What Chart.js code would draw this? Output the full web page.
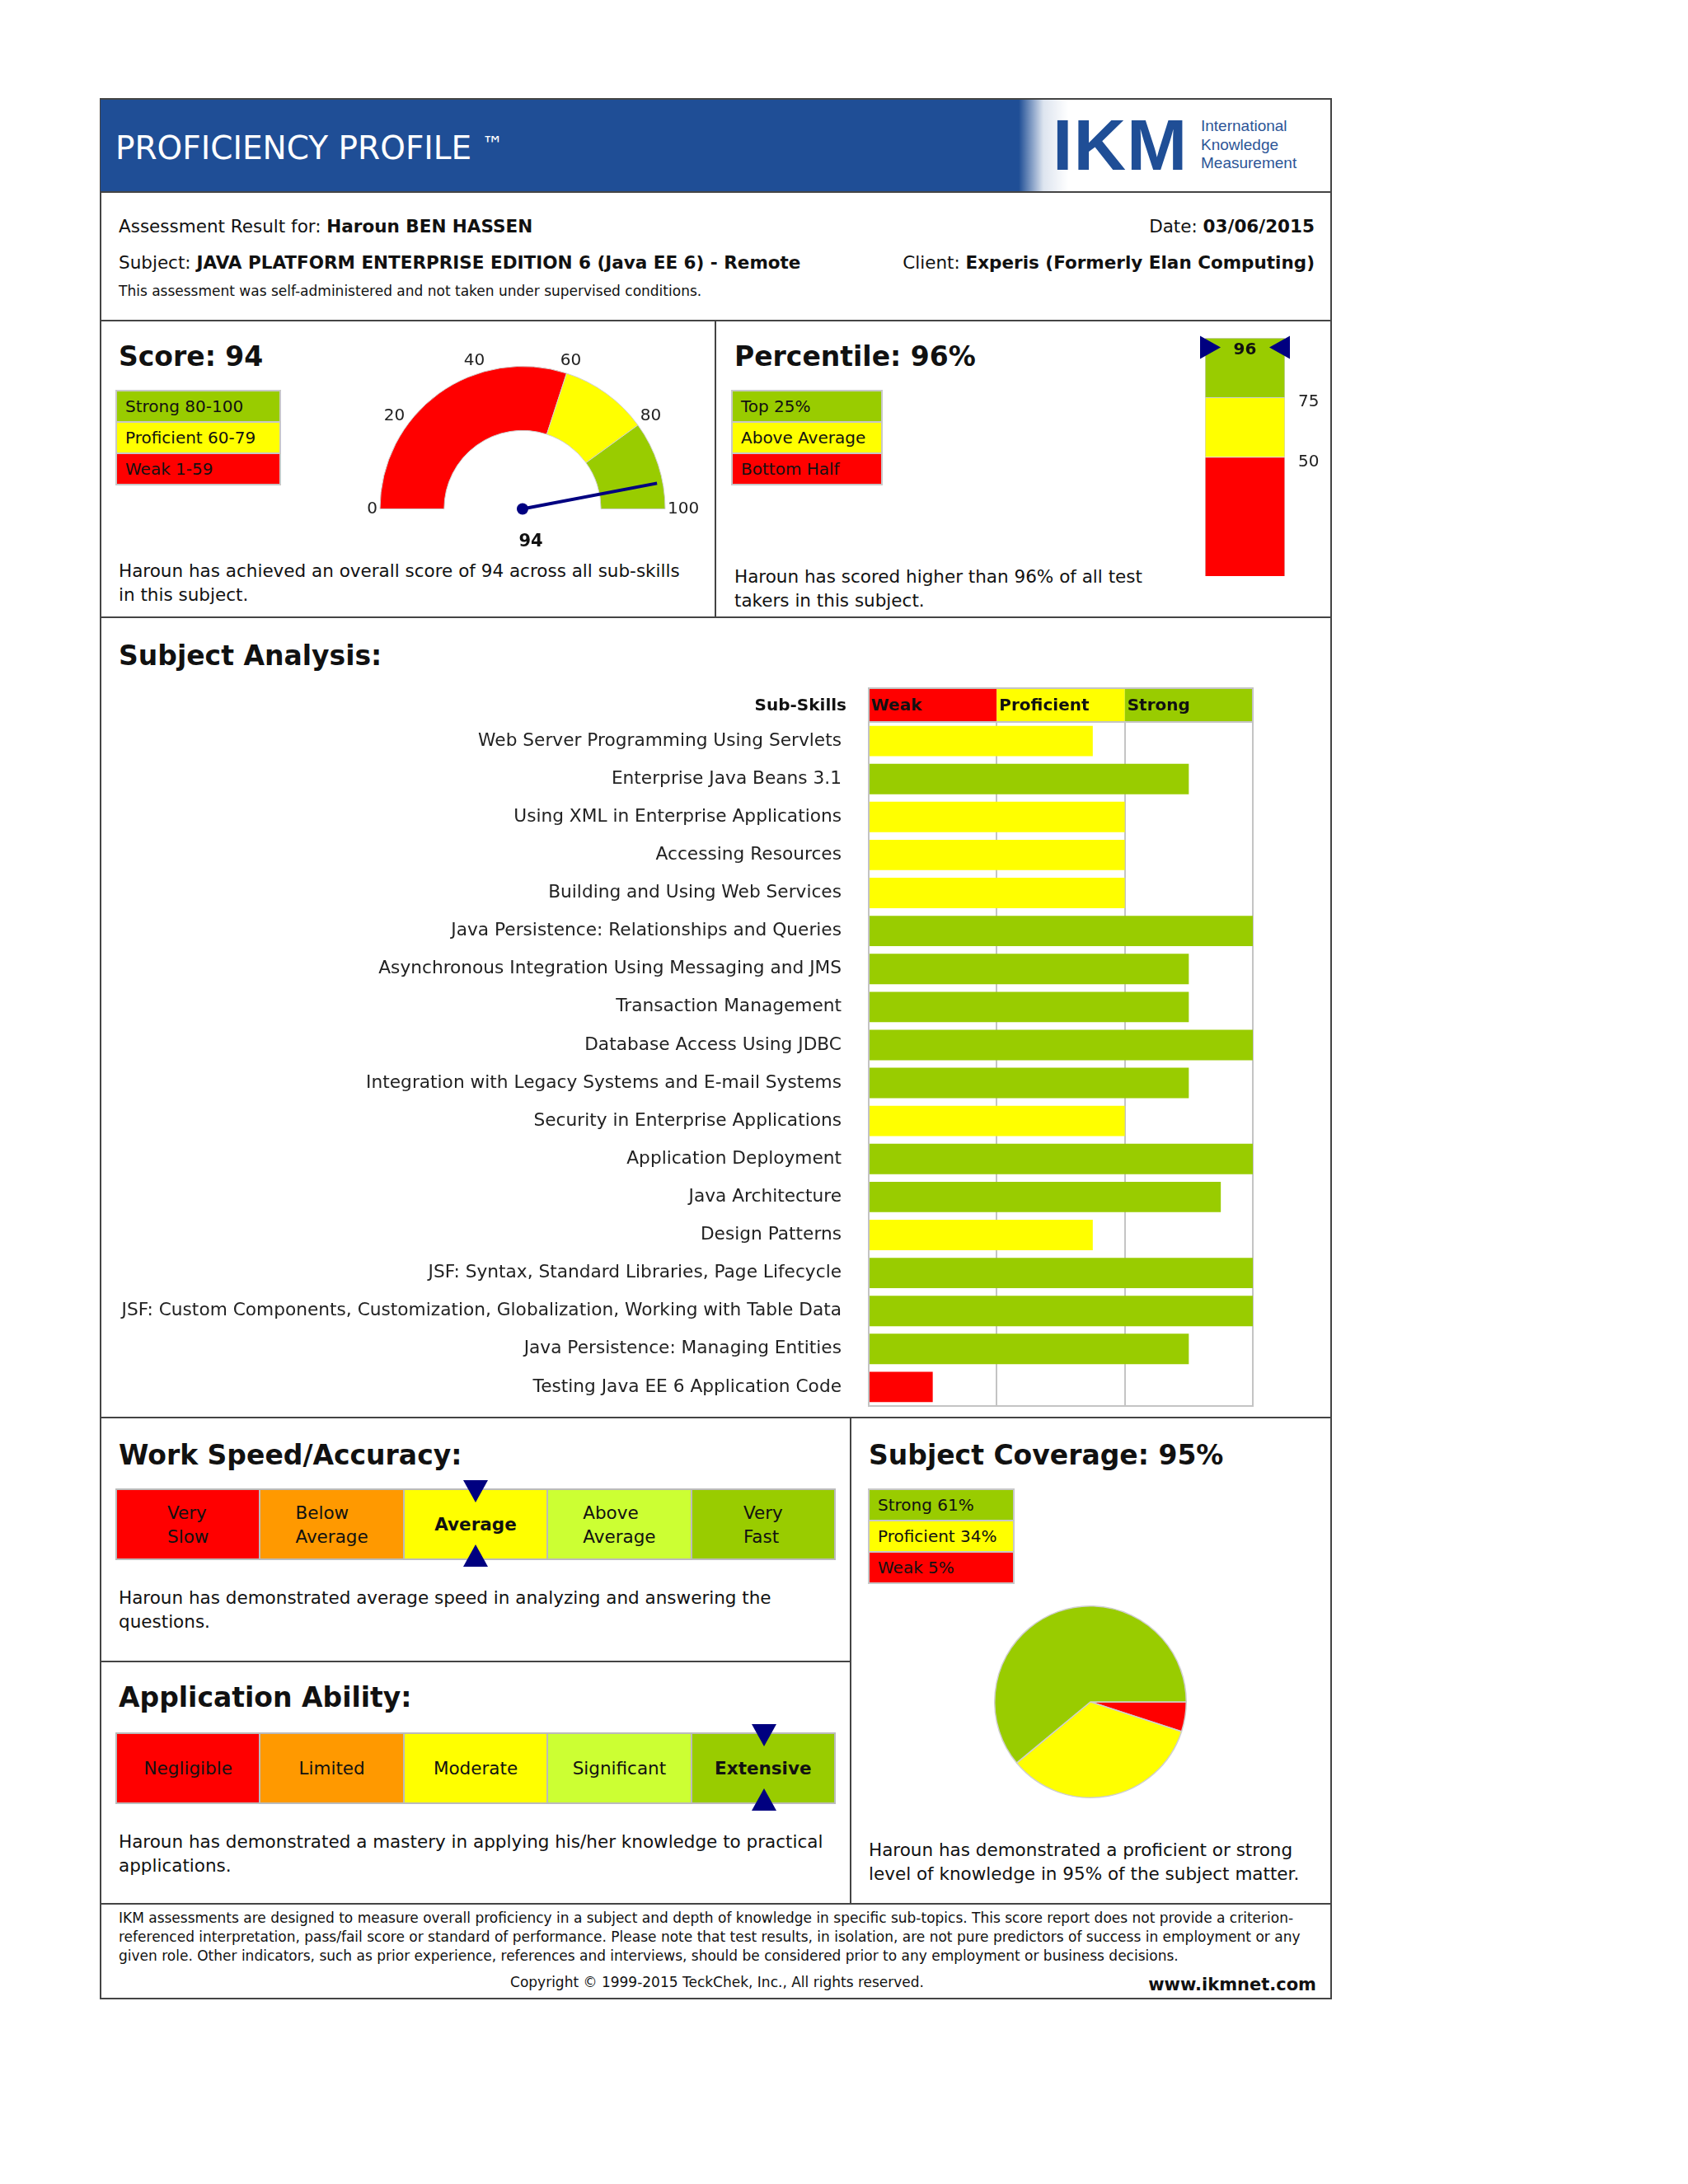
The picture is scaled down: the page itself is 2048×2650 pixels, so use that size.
<!DOCTYPE html>
<html lang="en">
<head>
<meta charset="UTF-8">
<title>Proficiency Profile</title>
<script src="https://cdn.jsdelivr.net/npm/chart.js"></script>
<style>
  body { margin: 0; background: #fff; font-family: "DejaVu Sans", Verdana, sans-serif; color: #111; }
  .page { position: relative; width: 2048px; height: 2650px; overflow: hidden; }
  .t { position: absolute; white-space: nowrap; transform: translateY(-50%); font-size: 21.5px; line-height: 29px; }
  .r { transform: translate(-100%, -50%); }
  .c { transform: translate(-50%, -50%); }
  .h { font-weight: bold; font-size: 33px; line-height: 40px; }
  .d { position: absolute; white-space: nowrap; font-size: 21.5px; line-height: 29px; }
  .small { font-size: 17px; line-height: 22px; }
  .hl { position: absolute; height: 2px; background: #444; }
  .vl { position: absolute; width: 2px; background: #444; }
  .legend { position: absolute; border: 2px solid #c8c8c8; box-sizing: border-box; }
  .legend div { height: 36px; line-height: 36px; padding-left: 10px; font-size: 20px; white-space: nowrap; border-top: 2px solid #c8c8c8; }
  .legend div:first-child { border-top: none; }
  .scale { position: absolute; left: 140px; width: 874px; height: 87px; display: flex; border: 2px solid #bbb; box-sizing: border-box; }
  .cell { flex: 1; display: flex; align-items: center; justify-content: center; border-left: 2px solid #bbb; }
  .cell:first-child { border-left: none; }
  .cell span { white-space: pre; text-align: left; font-size: 21.5px; line-height: 29px; }
  .mk { position: absolute; width: 0; height: 0; border-left: 15px solid transparent; border-right: 15px solid transparent; }
  canvas { position: absolute; }
</style>
</head>
<body>
<div class="page" id="page">
  <!-- frame and header -->
  <div style="position:absolute;left:121px;top:119px;width:1495px;height:2307px;border:2px solid #444;box-sizing:border-box;"></div>
  <div style="position:absolute;left:122px;top:121px;width:1492px;height:112px;background:#1f4e96;"></div>
  <div style="position:absolute;left:1236px;top:121px;width:378px;height:112px;background:linear-gradient(to right, rgba(255,255,255,0) 0px, rgba(255,255,255,0.85) 30px, #fff 60px);"></div>
  <div class="t" style="left:140px;top:177px;font-size:39px;line-height:46px;color:#fff;">PROFICIENCY PROFILE <span style="font-size:26px;vertical-align:9px;">™</span></div>
  <div class="t" style="left:1277px;top:176px;font-family:'Liberation Sans',Arial,sans-serif;font-weight:bold;font-size:88px;line-height:90px;color:#1f4e96;letter-spacing:1px;">IKM</div>
  <div class="d" style="left:1457px;top:142px;font-family:'Liberation Sans',Arial,sans-serif;font-size:19px;line-height:22.5px;color:#2d5597;">International<br>Knowledge<br>Measurement</div>

  <div class="hl" style="left:122px;top:232px;width:1493px;"></div>

  <!-- info -->
  <div class="t" style="left:144px;top:274px;">Assessment Result for: <b>Haroun BEN HASSEN</b></div>
  <div class="t r" style="left:1595px;top:274px;">Date: <b>03/06/2015</b></div>
  <div class="t" style="left:144px;top:318px;">Subject: <b>JAVA PLATFORM ENTERPRISE EDITION 6 (Java EE 6) - Remote</b></div>
  <div class="t r" style="left:1595px;top:318px;">Client: <b>Experis (Formerly Elan Computing)</b></div>
  <div class="t small" style="left:144px;top:353px;">This assessment was self-administered and not taken under supervised conditions.</div>

  <div class="hl" style="left:122px;top:388px;width:1493px;"></div>
  <div class="vl" style="left:867px;top:389px;height:360px;"></div>

  <!-- score -->
  <div class="t h" style="left:144px;top:433px;">Score: 94</div>
  <div class="legend" style="left:140px;top:473px;width:201px;">
    <div style="background:#99cc00;">Strong 80-100</div>
    <div style="background:#ffff00;">Proficient 60-79</div>
    <div style="background:#ff0000;">Weak 1-59</div>
  </div>
  <div class="d" style="left:144px;top:678px;">Haroun has achieved an overall score of 94 across all sub-skills<br>in this subject.</div>

  <!-- percentile -->
  <div class="t h" style="left:891px;top:433px;">Percentile: 96%</div>
  <div class="legend" style="left:887px;top:473px;width:184px;">
    <div style="background:#99cc00;">Top 25%</div>
    <div style="background:#ffff00;">Above Average</div>
    <div style="background:#ff0000;">Bottom Half</div>
  </div>
  <div class="d" style="left:891px;top:685px;">Haroun has scored higher than 96% of all test<br>takers in this subject.</div>

  <div class="hl" style="left:122px;top:748px;width:1493px;"></div>

  <!-- subject analysis -->
  <div class="t h" style="left:144px;top:796px;">Subject Analysis:</div>

  <div class="hl" style="left:122px;top:1719px;width:1493px;"></div>
  <div class="vl" style="left:1031px;top:1720px;height:590px;"></div>

  <!-- work speed -->
  <div class="t h" style="left:144px;top:1766px;">Work Speed/Accuracy:</div>
  <div class="d" style="left:144px;top:1924px;">Haroun has demonstrated average speed in analyzing and answering the<br>questions.</div>

  <div class="hl" style="left:122px;top:2015px;width:910px;"></div>

  <!-- application ability -->
  <div class="t h" style="left:144px;top:2060px;">Application Ability:</div>
  <div class="d" style="left:144px;top:2220px;">Haroun has demonstrated a mastery in applying his/her knowledge to practical<br>applications.</div>

  <!-- coverage -->
  <div class="t h" style="left:1054px;top:1766px;">Subject Coverage: 95%</div>
  <div class="legend" style="left:1053px;top:1806px;width:178px;">
    <div style="background:#99cc00;">Strong 61%</div>
    <div style="background:#ffff00;">Proficient 34%</div>
    <div style="background:#ff0000;">Weak 5%</div>
  </div>
  <div class="d" style="left:1054px;top:2230px;">Haroun has demonstrated a proficient or strong<br>level of knowledge in 95% of the subject matter.</div>

  <div class="hl" style="left:122px;top:2309px;width:1493px;"></div>

  <!-- footer -->
  <div class="d small" style="left:144px;top:2316px;line-height:23px;">IKM assessments are designed to measure overall proficiency in a subject and depth of knowledge in specific sub-topics. This score report does not provide a criterion-<br>referenced interpretation, pass/fail score or standard of performance. Please note that test results, in isolation, are not pure predictors of success in employment or any<br>given role. Other indicators, such as prior experience, references and interviews, should be considered prior to any employment or business decisions.</div>
  <div class="t c small" style="left:870px;top:2405px;">Copyright © 1999-2015 TeckChek, Inc., All rights reserved.</div>
  <div class="t r" style="left:1597px;top:2408px;font-weight:bold;font-size:21px;">www.ikmnet.com</div>

  <canvas id="gauge" width="448" height="270" style="left:410px;top:404px;"></canvas>
  <canvas id="pct" width="180" height="345" style="left:1440px;top:382px;"></canvas>
  <canvas id="skills" width="1400" height="922" style="left:140px;top:830px;"></canvas>
  <canvas id="pie" width="250" height="250" style="left:1198px;top:1940px;"></canvas>
</div>

<script>
// ---- data ----
const score = 94;
const gaugeBands = [60, 20, 20];
const gaugeTicks = [0, 20, 40, 60, 80, 100];

const percentile = 96;
const percentileBands = [50, 25, 25];
const percentileTicks = [50, 75];

const levelNames = ['Weak', 'Proficient', 'Strong'];
const levelColors = ['#ff0000', '#ffff00', '#99cc00'];

const skillNames = [
  'Web Server Programming Using Servlets',
  'Enterprise Java Beans 3.1',
  'Using XML in Enterprise Applications',
  'Accessing Resources',
  'Building and Using Web Services',
  'Java Persistence: Relationships and Queries',
  'Asynchronous Integration Using Messaging and JMS',
  'Transaction Management',
  'Database Access Using JDBC',
  'Integration with Legacy Systems and E-mail Systems',
  'Security in Enterprise Applications',
  'Application Deployment',
  'Java Architecture',
  'Design Patterns',
  'JSF: Syntax, Standard Libraries, Page Lifecycle',
  'JSF: Custom Components, Customization, Globalization, Working with Table Data',
  'Java Persistence: Managing Entities',
  'Testing Java EE 6 Application Code'
];
const skillLevels = [1.75, 2.5, 2, 2, 2, 3, 2.5, 2.5, 3, 2.5, 2, 3, 2.75, 1.75, 3, 3, 2.5, 0.5];

const coverageLabels = ['Weak', 'Proficient', 'Strong'];
const coverageValues = [5, 34, 61];

const speedLevels = ['Very\nSlow', 'Below\nAverage', 'Average', 'Above\nAverage', 'Very\nFast'];
const speedPick = 2;
const abilityLevels = ['Negligible', 'Limited', 'Moderate', 'Significant', 'Extensive'];
const abilityPick = 4;
const scaleColors = ['#ff0000', '#ff9900', '#ffff00', '#ccff33', '#99cc00'];

Chart.defaults.font.family = '"DejaVu Sans", Verdana, sans-serif';
Chart.defaults.color = '#222';
Chart.defaults.animation = false;
Chart.defaults.plugins.legend.display = false;
Chart.defaults.plugins.tooltip.enabled = false;

const NAVY = '#000080';

// ---- speed / ability scales ----
const page = document.getElementById('page');
function buildScale(top, labels, pick) {
  const row = document.createElement('div');
  row.className = 'scale';
  row.style.top = top + 'px';
  labels.forEach((lab, i) => {
    const cell = document.createElement('div');
    cell.className = 'cell';
    cell.style.background = scaleColors[i];
    const s = document.createElement('span');
    s.textContent = lab;
    if (i === pick) s.style.fontWeight = 'bold';
    cell.appendChild(s);
    row.appendChild(cell);
  });
  page.appendChild(row);
  const cx = 140 + (pick + 0.5) * (874 / labels.length);
  const down = document.createElement('div');
  down.className = 'mk';
  down.style.cssText = `left:${cx - 15}px;top:${top - 10}px;border-top:27px solid ${NAVY};`;
  const up = document.createElement('div');
  up.className = 'mk';
  up.style.cssText = `left:${cx - 15}px;top:${top + 68}px;border-bottom:27px solid ${NAVY};`;
  page.appendChild(down);
  page.appendChild(up);
}
buildScale(1806, speedLevels, speedPick);
buildScale(2102, abilityLevels, abilityPick);

// ---- score gauge ----
const gaugeDecor = {
  id: 'gaugeDecor',
  afterDatasetsDraw(chart) {
    const arc = chart.getDatasetMeta(0).data[0];
    const cx = arc.x, cy = arc.y, R = arc.outerRadius;
    const ctx = chart.ctx;
    ctx.save();
    ctx.font = '20px "DejaVu Sans"';
    ctx.fillStyle = '#222';
    ctx.textAlign = 'center';
    ctx.textBaseline = 'middle';
    gaugeTicks.forEach(v => {
      const a = Math.PI + v / 100 * Math.PI;
      const w = ctx.measureText(String(v)).width;
      const r = R + 3 + Math.abs(Math.cos(a)) * w / 2 + Math.abs(Math.sin(a)) * 10;
      ctx.fillText(String(v), cx + Math.cos(a) * r, cy + Math.sin(a) * r);
    });
    const a = Math.PI + score / 100 * Math.PI;
    ctx.strokeStyle = NAVY;
    ctx.lineWidth = 4;
    ctx.beginPath();
    ctx.moveTo(cx, cy);
    ctx.lineTo(cx + Math.cos(a) * R * 0.96, cy + Math.sin(a) * R * 0.96);
    ctx.stroke();
    ctx.fillStyle = NAVY;
    ctx.beginPath();
    ctx.arc(cx, cy, 7, 0, Math.PI * 2);
    ctx.fill();
    ctx.fillStyle = '#111';
    ctx.font = 'bold 21px "DejaVu Sans"';
    ctx.fillText(String(score), cx + 10, cy + 40);
    ctx.restore();
  }
};

new Chart(document.getElementById('gauge'), {
  type: 'doughnut',
  data: {
    labels: levelNames,
    datasets: [{
      data: gaugeBands,
      backgroundColor: levelColors,
      borderColor: '#d0d0d0',
      borderWidth: 1
    }]
  },
  options: {
    responsive: false,
    rotation: -90,
    circumference: 180,
    cutout: '55%',
    layout: { padding: { left: 50, right: 50, top: 40, bottom: 56 } }
  },
  plugins: [gaugeDecor]
});

// ---- percentile bar ----
const pctDecor = {
  id: 'pctDecor',
  afterDatasetsDraw(chart) {
    const bar = chart.getDatasetMeta(2).data[0];
    const left = bar.x - bar.width / 2, right = bar.x + bar.width / 2;
    const y = chart.scales.y.getPixelForValue(percentile);
    const ctx = chart.ctx;
    ctx.save();
    ctx.fillStyle = NAVY;
    ctx.beginPath();
    ctx.moveTo(left - 6, y - 14); ctx.lineTo(left + 19, y); ctx.lineTo(left - 6, y + 14);
    ctx.closePath(); ctx.fill();
    ctx.beginPath();
    ctx.moveTo(right + 6, y - 14); ctx.lineTo(right - 19, y); ctx.lineTo(right + 6, y + 14);
    ctx.closePath(); ctx.fill();
    ctx.fillStyle = '#111';
    ctx.font = 'bold 20px "DejaVu Sans"';
    ctx.textAlign = 'center';
    ctx.textBaseline = 'middle';
    ctx.fillText(String(percentile), bar.x, y + 3);
    ctx.restore();
  }
};

new Chart(document.getElementById('pct'), {
  type: 'bar',
  data: {
    labels: [''],
    datasets: percentileBands.map((v, i) => ({
      data: [v],
      backgroundColor: levelColors[i],
      borderColor: '#cfcfcf',
      borderWidth: 1,
      barPercentage: 1,
      categoryPercentage: 1
    }))
  },
  options: {
    responsive: false,
    layout: { padding: { left: 22, top: 0, bottom: 0 } },
    scales: {
      x: { stacked: true, display: false },
      y: {
        stacked: true, min: 0, max: 100, position: 'right',
        grid: { display: false, drawTicks: false },
        border: { display: false },
        afterBuildTicks: axis => { axis.ticks = percentileTicks.map(v => ({ value: v })); },
        afterFit: axis => { axis.width = 61; },
        ticks: { padding: 16, labelOffset: 6, font: { size: 20 }, color: '#222' }
      }
    }
  },
  plugins: [pctDecor]
});

// ---- sub-skills bars ----
const skillHeader = {
  id: 'skillHeader',
  afterDraw(chart) {
    const { ctx, chartArea } = chart;
    const xs = chart.scales.x;
    const top = chartArea.top - 41, h = 41;
    ctx.save();
    ctx.font = 'bold 20px "DejaVu Sans"';
    ctx.textBaseline = 'middle';
    levelNames.forEach((name, i) => {
      const x0 = xs.getPixelForValue(i), x1 = xs.getPixelForValue(i + 1);
      ctx.fillStyle = levelColors[i];
      ctx.fillRect(x0, top, x1 - x0, h);
      ctx.fillStyle = '#111';
      ctx.textAlign = 'left';
      ctx.fillText(name, x0 + 3, top + h / 2 + 1);
    });
    ctx.strokeStyle = '#c4c4c4';
    ctx.lineWidth = 2;
    ctx.strokeRect(xs.getPixelForValue(0), top, xs.getPixelForValue(3) - xs.getPixelForValue(0), h);
    ctx.textAlign = 'right';
    ctx.fillText('Sub-Skills', chartArea.left - 27, top + h / 2 + 1);
    ctx.restore();
  }
};

new Chart(document.getElementById('skills'), {
  type: 'bar',
  data: {
    labels: skillNames,
    datasets: [{
      data: skillLevels,
      backgroundColor: skillLevels.map(v => levelColors[v <= 1 ? 0 : v <= 2 ? 1 : 2]),
      barPercentage: 0.8,
      categoryPercentage: 1
    }]
  },
  options: {
    responsive: false,
    indexAxis: 'y',
    layout: { padding: { top: 46, right: 20, bottom: 15 } },
    scales: {
      x: {
        min: 0, max: 3,
        afterBuildTicks: axis => { axis.ticks = [0, 1, 2, 3].map(v => ({ value: v })); },
        ticks: { display: false },
        grid: { color: '#c4c4c4', lineWidth: 2, drawTicks: false },
        border: { color: '#c4c4c4', width: 2 }
      },
      y: {
        grid: { display: false, drawTicks: false },
        border: { color: '#c4c4c4', width: 2 },
        afterFit: axis => { axis.width = 914; },
        ticks: { padding: 33, font: { size: 21.7 }, color: '#222' }
      }
    }
  },
  plugins: [skillHeader]
});

// ---- coverage pie ----
new Chart(document.getElementById('pie'), {
  type: 'pie',
  data: {
    labels: coverageLabels,
    datasets: [{
      data: coverageValues,
      backgroundColor: levelColors,
      borderColor: '#cfcfcf',
      borderWidth: 1.5
    }]
  },
  options: {
    responsive: false,
    rotation: 90,
    layout: { padding: 8 }
  }
});
</script>
</body>
</html>
